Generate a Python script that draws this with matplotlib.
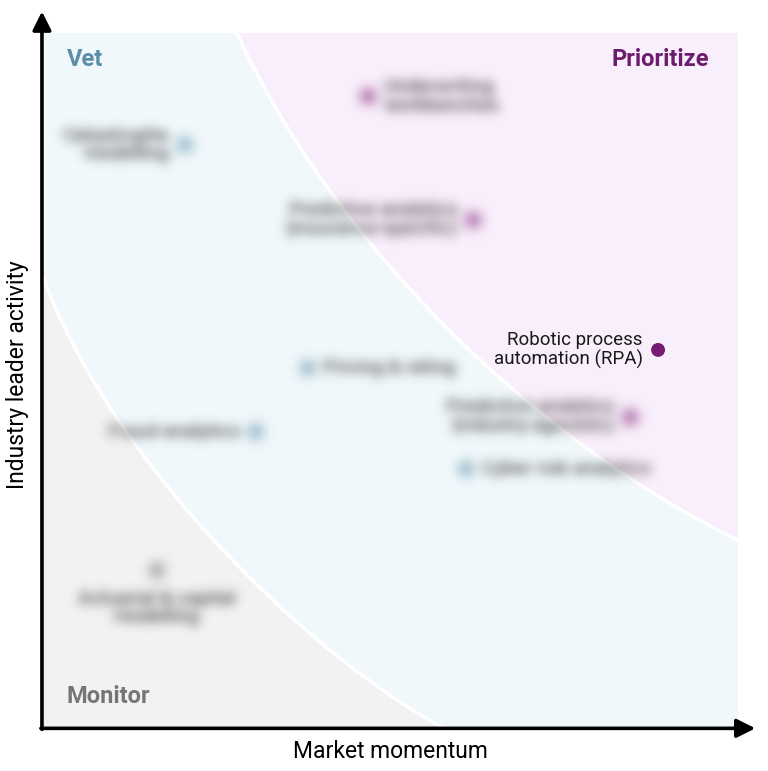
import numpy as np
import matplotlib
matplotlib.use("Agg")
import matplotlib.pyplot as plt
from matplotlib.path import Path
from matplotlib.patches import PathPatch, Rectangle

plt.rcParams['font.family'] = ['Roboto', 'DejaVu Sans']

# --- Dados (0-100 nos dois eixos) ---
tecnologias = [
    'Underwriting\nworkbenches',
    'Catastrophe\nmodelling',
    'Predictive analytics\n(insurance-specific)',
    'Robotic process\nautomation (RPA)',
    'Pricing & rating',
    'Predictive analytics\n(industry-agnostic)',
    'Fraud analytics',
    'Cyber risk analytics',
    'Actuarial & capital\nmodelling',
]
momentum = [46.8, 20.4, 61.9, 88.5, 38.1, 84.5, 30.6, 60.9, 16.4]
atividade = [90.9, 83.9, 73.1, 54.4, 51.8, 44.7, 42.6, 37.3, 22.7]
zona = ['Prioritize', 'Vet', 'Prioritize', 'Prioritize', 'Vet',
        'Prioritize', 'Vet', 'Vet', 'Monitor']
lado = ['right', 'left', 'left', 'left', 'right', 'left', 'left', 'right', 'below']
borrado = [True, True, True, False, True, True, True, True, True]

# --- Estilo ---
COR_ZONA = {'Prioritize': '#771a72', 'Vet': '#5b8ea8', 'Monitor': '#767676'}
FUNDO = {'Prioritize': '#f9eefb', 'Vet': '#f1f8fb', 'Monitor': '#f2f2f2'}

# curvas das fronteiras (bezier cúbica, em coordenadas dos eixos)
CURVA_PRIORITIZE = [(27.9, 100), (41.8, 69.5), (71.2, 41.0), (100, 27.05)]
CURVA_MONITOR = [(0, 65.0), (8.6, 40.7), (35.5, 12.1), (57.6, 0)]


def filtro_blur(sigma):
    def f(im, dpi):
        pad = int(3 * sigma) + 1
        a = np.pad(im, ((pad, pad), (pad, pad), (0, 0))).copy()
        a[..., :3] *= a[..., 3:4]
        k = np.exp(-0.5 * (np.arange(-pad, pad + 1) / sigma) ** 2)
        k /= k.sum()

        def conv(arr, eixo):
            n = arr.shape[eixo]
            larg = [(pad, pad) if e == eixo else (0, 0) for e in range(3)]
            p = np.pad(arr, larg)
            out = np.zeros_like(arr)
            for i, w in enumerate(k):
                sl = [slice(None)] * 3
                sl[eixo] = slice(i, i + n)
                out += w * p[tuple(sl)]
            return out

        a = conv(conv(a, 0), 1)
        alpha = a[..., 3:4]
        rgb = a[..., :3] / np.maximum(alpha, 1e-6)
        rgb = np.clip(rgb, 0, 1)
        return np.concatenate([rgb, alpha], axis=2), -pad, -pad
    return f


fig = plt.figure(figsize=(7.68, 7.71), dpi=100)
ax = fig.add_axes([43 / 768, 43 / 771, 695 / 768, 695 / 771])
ax.set_xlim(0, 100)
ax.set_ylim(0, 100)
ax.axis('off')

# --- Zonas de fundo ---
ax.add_patch(Rectangle((0, 0), 100, 100, facecolor=FUNDO['Vet'], edgecolor='none', zorder=0))

p0, p1, p2, p3 = CURVA_PRIORITIZE
path_p = Path([p0, p1, p2, p3, (100, 100), p0],
              [Path.MOVETO, Path.CURVE4, Path.CURVE4, Path.CURVE4, Path.LINETO, Path.CLOSEPOLY])
ax.add_patch(PathPatch(path_p, facecolor=FUNDO['Prioritize'], edgecolor='none', zorder=1))
ax.add_patch(PathPatch(Path([p0, p1, p2, p3], [Path.MOVETO, Path.CURVE4, Path.CURVE4, Path.CURVE4]),
                       facecolor='none', edgecolor='white', lw=2.5, zorder=2))

m0, m1, m2, m3 = CURVA_MONITOR
path_m = Path([(0, 0), m0, m1, m2, m3, (0, 0)],
              [Path.MOVETO, Path.LINETO, Path.CURVE4, Path.CURVE4, Path.CURVE4, Path.CLOSEPOLY])
ax.add_patch(PathPatch(path_m, facecolor=FUNDO['Monitor'], edgecolor='none', zorder=1))
ax.add_patch(PathPatch(Path([m0, m1, m2, m3], [Path.MOVETO, Path.CURVE4, Path.CURVE4, Path.CURVE4]),
                       facecolor='none', edgecolor='white', lw=2.5, zorder=2))

# --- Pontos e rótulos ---
for nome, x, y, z, l, b in zip(tecnologias, momentum, atividade, zona, lado, borrado):
    pts = ax.scatter([x], [y], s=100 if not b else 120, color=COR_ZONA[z],
                     edgecolor='none', zorder=4)
    if l == 'left':
        kw = dict(xytext=(-11, 0), ha='right', va='center', multialignment='right')
    elif l == 'right':
        kw = dict(xytext=(11, 0), ha='left', va='center', multialignment='left')
    else:
        kw = dict(xytext=(0, -14), ha='center', va='top', multialignment='center')
    txt = ax.annotate(nome, xy=(x, y), textcoords='offset points',
                      fontsize=13.5 if not b else 14, color='#1a1a1a',
                      linespacing=1.05, zorder=5, **kw)
    if b:
        pts.set_agg_filter(filtro_blur(4.5))
        pts.set_alpha(0.75)
        txt.set_agg_filter(filtro_blur(4.0))

# --- Nomes das zonas ---
ax.text(3.45, 95.3, 'Vet', fontsize=17, fontweight='bold', color=COR_ZONA['Vet'],
        ha='left', va='baseline')
ax.text(95.8, 95.3, 'Prioritize', fontsize=17, fontweight='bold', color='#6d1b6e',
        ha='right', va='baseline')
ax.text(3.45, 3.6, 'Monitor', fontsize=17, fontweight='bold', color=COR_ZONA['Monitor'],
        ha='left', va='baseline')

# --- Eixos com setas ---
ax.annotate('', xy=(-0.15, 103.1), xytext=(-0.15, -0.2), xycoords='data',
            arrowprops=dict(arrowstyle='-|>', lw=2.6, color='black', mutation_scale=28,
                            shrinkA=0, shrinkB=0), annotation_clip=False)
ax.annotate('', xy=(102.5, -0.05), xytext=(-0.3, -0.05), xycoords='data',
            arrowprops=dict(arrowstyle='-|>', lw=2.6, color='black', mutation_scale=28,
                            shrinkA=0, shrinkB=0), annotation_clip=False)

fig.text(390 / 768, 1 - 752 / 771, 'Market momentum', fontsize=16.5, ha='center', va='center')
fig.text(18 / 768, 1 - 375 / 771, 'Industry leader activity', fontsize=16.5, ha='center',
         va='center', rotation=90)

fig.savefig('out.png', dpi=100, facecolor='white')
